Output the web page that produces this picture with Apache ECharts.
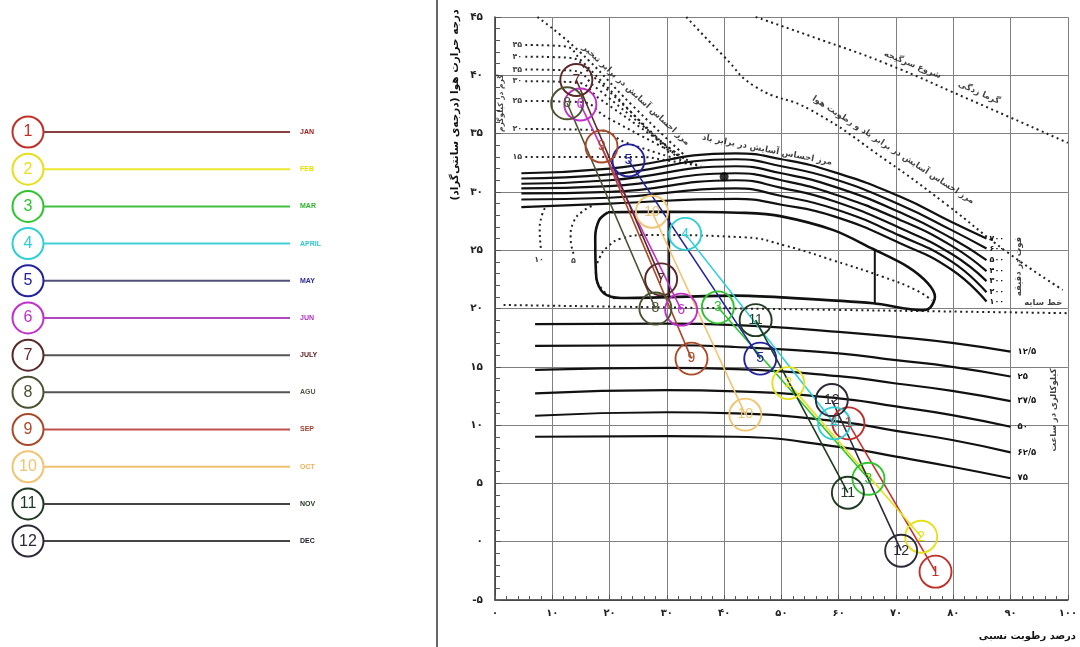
<!DOCTYPE html>
<html><head><meta charset="utf-8">
<script src="https://cdn.jsdelivr.net/npm/echarts@6/dist/echarts.min.js"></script>
<style>html,body{margin:0;padding:0;background:#fff}#c{width:1080px;height:647px}</style>
</head><body><div id="c"></div>
<script>
// ---------- data ----------
const monthNames = ['JAN','FEB','MAR','APRIL','MAY','JUN','JULY','AGU','SEP','OCT','NOV','DEC'];
const monthNumbers = ['1','2','3','4','5','6','7','8','9','10','11','12'];
const rhAtMaxT = [61.7,51.2,38.9,33.2,23.3,14.9,14.2,12.6,18.6,27.4,45.5,58.8];
const maxT     = [10.15,13.6,20.1,26.4,32.7,37.5,39.6,37.6,33.9,28.3,19.0,12.15];
const rhAtMinT = [76.9,74.4,65.2,59.2,46.3,32.5,29.0,28.0,34.3,43.7,61.6,70.9];
const minT     = [-2.57,0.43,5.4,10.15,15.7,19.9,22.5,20.0,15.7,10.9,4.2,-0.77];

const xTickLabels = ['۰','۱۰','۲۰','۳۰','۴۰','۵۰','۶۰','۷۰','۸۰','۹۰','۱۰۰'];
const yTickLabels = ['-۵','۰','۵','۱۰','۱۵','۲۰','۲۵','۳۰','۳۵','۴۰','۴۵'];

// wind lines (feet per minute)
const windLabels = ['۷۰۰','۶۰۰','۵۰۰','۴۰۰','۳۰۰','۲۰۰','۱۰۰'];
const wind700 = [[4.6,31.6],[20,32.0],[42,33.3],[50,32.8],[59.2,31.7],[70.7,29.6],[79.8,27.4],[85.8,26.0]];
const wind600 = [[4.6,31.15],[20,31.5],[42,32.8],[50,32.2],[59.2,31.1],[70.7,28.9],[79.8,26.7],[85.8,25.15]];
const wind500 = [[4.6,30.7],[20,31.0],[42,32.2],[50,31.6],[59.2,30.45],[70.7,28.25],[79.8,26.0],[85.8,24.15]];
const wind400 = [[4.6,30.3],[20,30.5],[42,31.6],[50,31.0],[59.2,29.8],[70.7,27.6],[79.8,25.35],[85.8,23.2]];
const wind300 = [[4.6,29.87],[20,30.0],[42,31.0],[50,30.35],[59.2,29.2],[70.7,26.9],[79.8,24.65],[85.8,22.35]];
const wind200 = [[4.6,29.35],[20,29.5],[42,30.3],[50,29.65],[59.2,28.55],[70.7,26.25],[79.8,24.0],[85.8,21.4]];
const wind100 = [[4.6,28.7],[20,29.0],[42,29.4],[50,28.9],[59.2,27.9],[70.7,25.6],[79.8,23.3],[85.8,20.6]];

// solar radiation lines (kcal per hour)
const solarLabels = ['۱۲/۵','۲۵','۳۷/۵','۵۰','۶۲/۵','۷۵'];
const solar125 = [[7,18.66],[30,18.7],[42,18.58],[60,18.0],[70,17.57],[79.8,17.05],[90,16.3]];
const solar250 = [[7,16.8],[30,16.85],[42,16.7],[60,16.15],[70,15.57],[79.8,15.0],[90,14.17]];
const solar375 = [[7,14.73],[30,14.9],[42,14.8],[60,14.2],[70,13.57],[79.8,12.94],[90,12.06]];
const solar500 = [[7,12.72],[30,13.0],[42,12.9],[60,12.3],[70,11.6],[79.8,10.86],[90,9.86]];
const solar625 = [[7,10.8],[30,11.1],[42,11.0],[60,10.3],[70,9.5],[79.8,8.72],[90,7.66]];
const solar750 = [[7,9.0],[30,9.05],[42,9.0],[60,8.14],[70,7.3],[79.8,6.43],[90,5.44]];

// comfort zone outline and inner lines
const comfortZone = [[19.7,28.25],[30.4,28.3],[43.7,28.2],[50,27.9],[59.2,26.7],[66,25.1],[72,23.6],[75.5,22.2],[76.8,21.0],[76,20.1],[74.6,19.85],[66,20.45],[50,20.95],[42,21.1],[22,20.9],[19,21.3],[17.7,22.6],[17.5,26.1],[18.2,27.6],[19.7,28.25]];
const zoneDivider1 = [[30.4,28.3],[30.4,21.0]];
const zoneDivider2 = [[66.3,25.05],[66.3,20.45]];
const innerDotted = [[20.9,20.86],[18.6,21.7],[17.6,23.0],[18.3,24.4],[19.7,25.3],[22,26.0],[26.6,26.3],[43.7,26.1],[50.6,25.4],[59.2,24.1],[67.8,22.7],[73.4,21.6],[76.3,20.7]];
const shadeLine = [[1.5,20.3],[50,19.95],[100,19.6]];

// evaporative cooling (moisture) lines
const evap45 = [[5.3,42.6],[12,42.5],[15,41.3],[30.5,33.3]];
const evap40 = [[5.3,41.6],[13,41.5],[16.5,40.2],[31.5,33.1]];
const evap35 = [[5.3,40.5],[13.5,40.4],[17.5,39.0],[32.5,32.9]];
const evap30 = [[5.3,39.5],[14,39.4],[18.5,37.9],[33.5,32.7]];
const evap25 = [[5.3,37.8],[15,37.7],[19.5,36.4],[34.5,32.5]];
const evap20 = [[5.3,35.4],[18,35.3],[23,34.2],[35.5,32.3]];
const evap15 = [[5.3,33.0],[25,33.0],[30,32.7],[36,32.2]];
const evap10 = [[8.0,25.2],[7.8,26.8],[8.2,28.0],[8.8,28.7]];
const evap5  = [[13.7,24.7],[13.2,26.1],[13.7,27.4],[15.2,28.3],[17.4,28.9]];

// boundary lines
const evapBoundary = [[7.4,45],[14.6,42.1],[24,37.4],[33.4,33.0]];
const windHumidityBoundary = [[33.4,45],[40,41.6],[45.5,39.0],[55.2,37.0],[68.3,32.7],[78.6,29.0],[89.5,24.8],[99.1,21.6]];
const heatStrokeLine = [[45.5,45],[56,43.2],[68.3,41.0],[82,38.1],[100,34.2]];
const referenceDot = [[40,31.3]];

// text annotations: text, rh, temp, rotation
const annotationTexts = ['شروع سرگیجه','گرما زدگی','مرز احساس آسایش در برابر باد و رطوبت هوا','مرز احساس آسایش در برابر باد','مرز احساس آسایش در برابر تبخیر','فوت در دقیقه','خط سایه','کیلوکالری در ساعت','گرم در کیلوگرم','۴۵','۴۰','۳۵','۳۰','۲۵','۲۰','۱۵','۱۰','۵'];
const annotationRH   = [72.9,84.5,69.5,47.5,24.6,91.4,95.7,97.5,1.0,3.9,3.9,3.9,3.9,3.9,3.9,3.9,7.7,13.7];
const annotationTemp = [40.9,38.5,33.6,33.6,38.3,23.6,20.5,11.3,37.6,42.6,41.6,40.5,39.5,37.8,35.4,33.0,24.2,24.1];
const annotationRot  = [-22,-24,-33,-11,-43,90,0,90,90,0,0,0,0,0,0,0,0,0];

// ---------- styles ----------
const monthColors = ['#c0302a','#e6e01a','#2ec42e','#2ccfd6','#22229a','#c030c8','#5a2828','#4a5232','#a84a28','#f0c470','#1f3a22','#2e2838'];
const legendLineColors = ['#8a4040','#ece830','#40c040','#40d0d8','#50507a','#b048c0','#555555','#555555','#c05050','#f0c070','#444444','#444444'];
const legendTextColors = ['#a02020','#e8e000','#30b030','#30c8d0','#2a2a9a','#b030c0','#5a1a1a','#505a40','#a04030','#f0b050','#203a20','#202030'];
const FA = 'DejaVu Sans';
const solid = {color:'#111', width:2.2};
const dots = {color:'#222', width:2, type:[2,3.5]};

function curve(data, style, extra) {
  return Object.assign({type:'line', data:data, smooth:true, showSymbol:false, symbol:'none',
    silent:true, animation:false, lineStyle:style, z:2, xAxisIndex:0, yAxisIndex:0}, extra || {});
}

const series = [];
[evap45,evap40,evap35,evap30,evap25,evap20,evap15,evap10,evap5,evapBoundary,windHumidityBoundary,heatStrokeLine,innerDotted,shadeLine]
  .forEach(d => series.push(curve(d, dots)));
[wind700,wind600,wind500,wind400,wind300,wind200,wind100].forEach((d,i) => series.push(curve(d, solid, {
  endLabel:{show:true, formatter:windLabels[i], distance:3, fontSize:8, fontWeight:'bold', fontFamily:FA, color:'#111'}
})));
[solar125,solar250,solar375,solar500,solar625,solar750].forEach((d,i) => series.push(curve(d, solid, {
  endLabel:{show:true, formatter:solarLabels[i], distance:7, fontSize:8.5, fontWeight:'bold', fontFamily:FA, color:'#111'}
})));
series.push(curve(comfortZone, {color:'#111', width:2.6}, {smooth:0.3}));
series.push(curve(zoneDivider1, {color:'#111', width:2}, {smooth:false}));
series.push(curve(zoneDivider2, {color:'#111', width:2}, {smooth:false}));
series.push({type:'scatter', data:referenceDot, symbolSize:9, itemStyle:{color:'#000'}, silent:true, animation:false, z:3});

// annotations
series.push({type:'scatter', silent:true, animation:false, z:4, symbolSize:1, itemStyle:{color:'rgba(0,0,0,0)'},
  data: annotationTexts.map((t,i) => ({value:[annotationRH[i], annotationTemp[i]],
    label:{show:true, position:'inside', formatter:t, rotate:annotationRot[i],
      fontSize: i === 8 ? 7.5 : (i < 9 ? 8.5 : 8), fontWeight:'bold', fontFamily:FA, color:'#111'}}))
});

// monthly lines
monthNames.forEach((m,i) => {
  series.push({type:'line', animation:false, silent:true, z:10,
    data:[[rhAtMaxT[i], maxT[i]], [rhAtMinT[i], minT[i]]],
    symbol:'circle', symbolSize:32, showSymbol:true,
    lineStyle:{color:monthColors[i], width:1.6},
    itemStyle:{color:'rgba(255,255,255,0)', borderColor:monthColors[i], borderWidth:1.9},
    label:{show:true, position:'inside', formatter:monthNumbers[i], color:monthColors[i], fontSize:14, fontFamily:'Liberation Sans'}
  });
});

// left legend
monthNames.forEach((m,i) => {
  series.push({type:'line', animation:false, silent:true, z:10, xAxisIndex:1, yAxisIndex:1,
    data:[{value:[0, i+1], symbol:'circle', symbolSize:31}, {value:[1, i+1], symbol:'none'}],
    lineStyle:{color:legendLineColors[i], width:2},
    itemStyle:{color:'#fff', borderColor:monthColors[i], borderWidth:2},
    label:{show:true, position:'inside', formatter:monthNumbers[i], color:monthColors[i], fontSize:16, fontFamily:'Liberation Sans'},
    endLabel:{show:true, formatter:m, distance:10, fontSize:7, fontWeight:'bold', fontFamily:'Liberation Sans', color:legendTextColors[i]}
  });
});

const chart = echarts.init(document.getElementById('c'), null, {renderer:'canvas'});
chart.setOption({
  backgroundColor:'#fff',
  animation:false,
  grid:[
    {left:495, top:17, width:583, height:583},
    {left:28, top:94.8, width:262, height:483.5}
  ],
  xAxis:[
    {type:'value', gridIndex:0, min:0, max:100, interval:10,
     axisLine:{show:true, onZero:false, lineStyle:{color:'#333', width:1.5}},
     axisTick:{show:true, inside:true, length:5, lineStyle:{color:'#555'}},
     minorTick:{show:true, splitNumber:5, length:4, lineStyle:{color:'#555'}},
     axisLabel:{formatter:v => xTickLabels[Math.round(v/10)], fontSize:10, fontWeight:'bold', fontFamily:FA, color:'#222', margin:8},
     splitLine:{show:true, lineStyle:{color:'#808080', width:1}}},
    {type:'value', gridIndex:1, min:0, max:1, show:false}
  ],
  yAxis:[
    {type:'value', gridIndex:0, min:-5, max:45, interval:5,
     axisLine:{show:true, onZero:false, lineStyle:{color:'#333', width:1.5}},
     axisTick:{show:true, inside:true, length:6, lineStyle:{color:'#555'}},
     minorTick:{show:true, splitNumber:5, length:5, lineStyle:{color:'#555'}},
     axisLabel:{formatter:v => yTickLabels[Math.round((v+5)/5)], fontSize:10.5, fontWeight:'bold', fontFamily:FA, color:'#222', margin:12},
     splitLine:{show:true, lineStyle:{color:'#808080', width:1}}},
    {type:'value', gridIndex:1, min:0, max:13, inverse:true, show:false}
  ],
  graphic:[
    {type:'line', shape:{x1:437, y1:0, x2:437, y2:647}, style:{stroke:'#333', lineWidth:1.5}, silent:true},
    {type:'text', x:455, y:105, rotation:Math.PI/2, silent:true,
     style:{text:'درجه حرارت هوا (درجه‌ی سانتی‌گراد)\u200F', fontSize:10.5, fontWeight:'bold', fontFamily:FA, fill:'#111', align:'center', verticalAlign:'middle'}},
    {type:'text', x:1076, y:636, silent:true,
     style:{text:'درصد رطوبت نسبی', fontSize:10, fontWeight:'bold', fontFamily:FA, fill:'#111', align:'right', verticalAlign:'middle'}}
  ],
  series: series
});
</script></body></html>
